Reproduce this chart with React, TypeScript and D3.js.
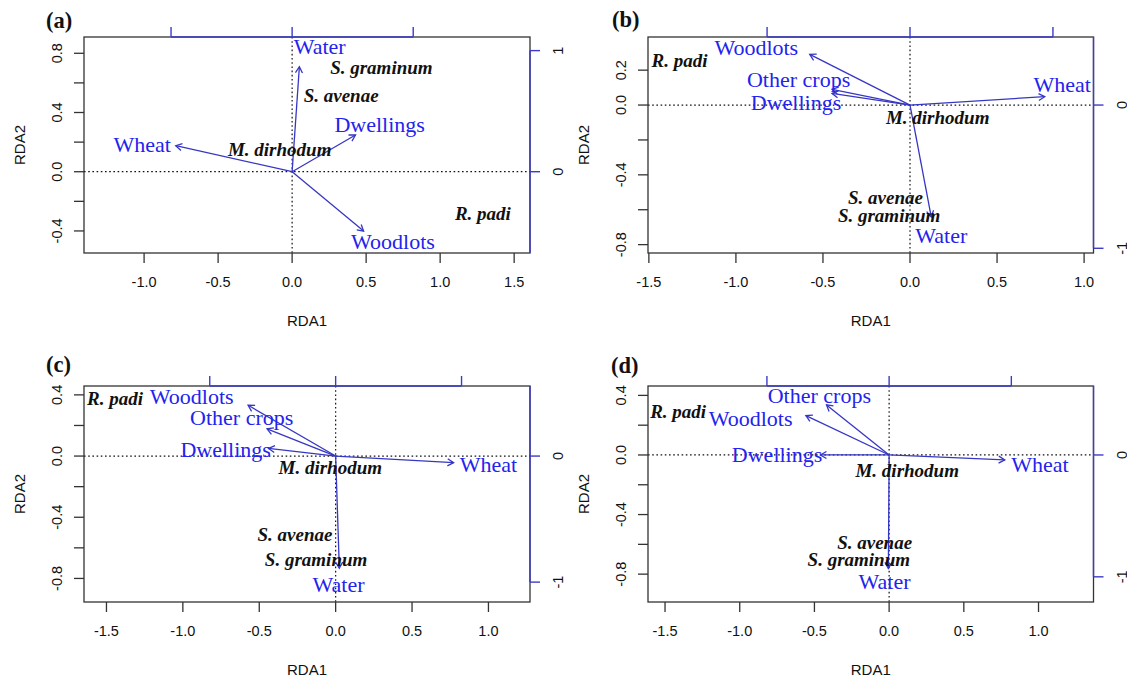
import React from "react";
import * as d3 from "d3";

// ---------- data ----------
const panelNames = ["(a)", "(b)", "(c)", "(d)"];

// axis ranges of each panel (RDA1, RDA2)
const xDomains: [number, number][] = [
  [-1.406, 1.607],
  [-1.505, 1.054],
  [-1.647, 1.272],
  [-1.614, 1.368],
];
const yDomains: [number, number][] = [
  [-0.549, 0.91],
  [-0.848, 0.39],
  [-0.954, 0.458],
  [-0.987, 0.463],
];

// bottom axis tick labels
const xTicksA = [-1.0, -0.5, 0.0, 0.5, 1.0, 1.5];
const xTicksB = [-1.5, -1.0, -0.5, 0.0, 0.5, 1.0];
const xTicksC = [-1.5, -1.0, -0.5, 0.0, 0.5, 1.0];
const xTicksD = [-1.5, -1.0, -0.5, 0.0, 0.5, 1.0];

// left axis tick marks and the labels that R kept
const yMarksA = [-0.4, -0.2, 0.0, 0.2, 0.4, 0.6, 0.8];
const yMarksB = [-0.8, -0.6, -0.4, -0.2, 0.0, 0.2];
const yMarksC = [-0.8, -0.6, -0.4, -0.2, 0.0, 0.2, 0.4];
const yMarksD = [-0.8, -0.6, -0.4, -0.2, 0.0, 0.2, 0.4];
const yLabelsA = [-0.4, 0.0, 0.4, 0.8];
const yLabelsB = [-0.8, -0.4, 0.0, 0.2];
const yLabelsC = [-0.8, -0.4, 0.0, 0.4];
const yLabelsD = [-0.8, -0.4, 0.0, 0.4];

// secondary (biplot arrow) axes: ticks and units of RDA per secondary unit
const secondaryTicks = [-1, 0, 1];
const secondaryUnit = [0.818, 0.821, 0.824, 0.818];

// environmental arrows: name, head (x, y), label (lx, ly)
type Arrow = { name: string; x: number; y: number; lx: number; ly: number };
const arrowsA: Arrow[] = [
  { name: "Water", x: 0.049, y: 0.709, lx: 0.186, ly: 0.849 },
  { name: "Wheat", x: -0.786, y: 0.176, lx: -1.013, ly: 0.187 },
  { name: "Dwellings", x: 0.428, y: 0.248, lx: 0.591, ly: 0.322 },
  { name: "Woodlots", x: 0.483, y: -0.401, lx: 0.681, ly: -0.473 },
];
const arrowsB: Arrow[] = [
  { name: "Woodlots", x: -0.576, y: 0.29, lx: -0.883, ly: 0.329 },
  { name: "Other crops", x: -0.448, y: 0.09, lx: -0.64, ly: 0.147 },
  { name: "Dwellings", x: -0.448, y: 0.067, lx: -0.655, ly: 0.015 },
  { name: "Wheat", x: 0.774, y: 0.048, lx: 0.874, ly: 0.119 },
  { name: "Water", x: 0.122, y: -0.641, lx: 0.18, ly: -0.746 },
];
const arrowsC: Arrow[] = [
  { name: "Woodlots", x: -0.573, y: 0.332, lx: -0.942, ly: 0.391 },
  { name: "Other crops", x: -0.449, y: 0.178, lx: -0.615, ly: 0.25 },
  { name: "Dwellings", x: -0.439, y: 0.05, lx: -0.72, ly: 0.046 },
  { name: "Wheat", x: 0.772, y: -0.043, lx: 1.0, ly: -0.058 },
  { name: "Water", x: 0.024, y: -0.733, lx: 0.019, ly: -0.841 },
];
const arrowsD: Arrow[] = [
  { name: "Other crops", x: -0.419, y: 0.336, lx: -0.467, ly: 0.399 },
  { name: "Woodlots", x: -0.557, y: 0.264, lx: -0.927, ly: 0.246 },
  { name: "Dwellings", x: -0.46, y: 0.0, lx: -0.75, ly: 0.0 },
  { name: "Wheat", x: 0.774, y: -0.033, lx: 1.009, ly: -0.063 },
  { name: "Water", x: -0.005, y: -0.762, lx: -0.031, ly: -0.851 },
];

// aphid species scores
type Species = { name: string; x: number; y: number };
const speciesA: Species[] = [
  { name: "S. graminum", x: 0.603, y: 0.703 },
  { name: "S. avenae", x: 0.331, y: 0.514 },
  { name: "M. dirhodum", x: -0.084, y: 0.147 },
  { name: "R. padi", x: 1.289, y: -0.281 },
];
const speciesB: Species[] = [
  { name: "R. padi", x: -1.324, y: 0.254 },
  { name: "M. dirhodum", x: 0.159, y: -0.071 },
  { name: "S. avenae", x: -0.141, y: -0.53 },
  { name: "S. graminum", x: -0.12, y: -0.632 },
];
const speciesC: Species[] = [
  { name: "R. padi", x: -1.444, y: 0.376 },
  { name: "M. dirhodum", x: -0.035, y: -0.074 },
  { name: "S. avenae", x: -0.266, y: -0.515 },
  { name: "S. graminum", x: -0.128, y: -0.678 },
];
const speciesD: Species[] = [
  { name: "R. padi", x: -1.412, y: 0.291 },
  { name: "M. dirhodum", x: 0.121, y: -0.101 },
  { name: "S. avenae", x: -0.097, y: -0.587 },
  { name: "S. graminum", x: -0.203, y: -0.705 },
];

const xTicksAll = [xTicksA, xTicksB, xTicksC, xTicksD];
const yMarksAll = [yMarksA, yMarksB, yMarksC, yMarksD];
const yLabelsAll = [yLabelsA, yLabelsB, yLabelsC, yLabelsD];
const arrowsAll = [arrowsA, arrowsB, arrowsC, arrowsD];
const speciesAll = [speciesA, speciesB, speciesC, speciesD];

// ---------- layout ----------
const W = 1127;
const H = 676;
const boxes = [
  { left: 84, right: 530, top: 37, bottom: 253, lblX: 46, lblY: 28 },
  { left: 648, right: 1093.5, top: 37, bottom: 253, lblX: 612, lblY: 27 },
  { left: 84, right: 530, top: 386, bottom: 602, lblX: 46, lblY: 372 },
  { left: 648, right: 1093.5, top: 386, bottom: 602, lblX: 611, lblY: 373 },
];

const BLUE_LINE = "#3636c4";
const BLUE_TEXT = "#2323ee";
const AXIS_BLUE = "#3c3cc8";
const SANS = "'Liberation Sans', Arial, sans-serif";
const SERIF = "'Liberation Serif', 'Times New Roman', serif";

const fmt = (v: number) => (Math.abs(v) < 1e-9 ? "0.0" : v.toFixed(1));

function headPath(x1: number, y1: number, x2: number, y2: number) {
  const a = Math.atan2(y2 - y1, x2 - x1);
  const L = 7;
  const ang = Math.PI / 6;
  return `M${x2 - L * Math.cos(a - ang)},${y2 - L * Math.sin(a - ang)}L${x2},${y2}L${
    x2 - L * Math.cos(a + ang)
  },${y2 - L * Math.sin(a + ang)}`;
}

function Panel({ i }: { i: number }) {
  const b = boxes[i];
  const x = d3.scaleLinear().domain(xDomains[i]).range([b.left, b.right]);
  const y = d3.scaleLinear().domain(yDomains[i]).range([b.bottom, b.top]);
  const k = secondaryUnit[i];
  const x2 = d3
    .scaleLinear()
    .domain([xDomains[i][0] / k, xDomains[i][1] / k])
    .range([b.left, b.right]);
  const y2 = d3
    .scaleLinear()
    .domain([yDomains[i][0] / k, yDomains[i][1] / k])
    .range([b.bottom, b.top]);

  const topVisible = secondaryTicks.filter((t) => x2(t) >= b.left && x2(t) <= b.right);
  const rightVisible = secondaryTicks.filter((t) => y2(t) >= b.top - 0.01 && y2(t) <= b.bottom + 0.01);
  const topLine = [
    Math.max(b.left, x2(d3.min(secondaryTicks)!)),
    Math.min(b.right, x2(d3.max(secondaryTicks)!)),
  ];
  const rightLine = [
    Math.max(b.top, y2(d3.max(secondaryTicks)!)),
    Math.min(b.bottom, y2(d3.min(secondaryTicks)!)),
  ];

  const cx = (b.left + b.right) / 2;
  const cy = (b.top + b.bottom) / 2;
  const x0 = x(0);
  const y0 = y(0);

  return (
    <g>
      {/* panel label */}
      <text x={b.lblX} y={b.lblY} fontFamily={SERIF} fontWeight="bold" fontSize={22.5} fill="#111">
        {panelNames[i]}
      </text>

      {/* zero lines */}
      <line x1={b.left} x2={b.right} y1={y0} y2={y0} stroke="#111" strokeWidth={1.2} strokeDasharray="1.6,2.6" />
      <line x1={x0} x2={x0} y1={b.top} y2={b.bottom} stroke="#111" strokeWidth={1.2} strokeDasharray="1.6,2.6" />

      {/* box */}
      <rect x={b.left} y={b.top} width={b.right - b.left} height={b.bottom - b.top} fill="none" stroke="#333" strokeWidth={1.3} />

      {/* bottom axis */}
      {xTicksAll[i].map((t) => (
        <g key={"xb" + t}>
          <line x1={x(t)} x2={x(t)} y1={b.bottom} y2={b.bottom + 10} stroke="#333" strokeWidth={1.3} />
          <text x={x(t)} y={b.bottom + 29} textAnchor="middle" dominantBaseline="central" fontFamily={SANS} fontSize={14.5} fill="#111">
            {fmt(t)}
          </text>
        </g>
      ))}
      {/* left axis */}
      {yMarksAll[i].map((t) => (
        <line key={"ym" + t} x1={b.left - 10} x2={b.left} y1={y(t)} y2={y(t)} stroke="#333" strokeWidth={1.3} />
      ))}
      {yLabelsAll[i].map((t) => (
        <text
          key={"yl" + t}
          transform={`translate(${b.left - 27},${y(t)}) rotate(-90)`}
          textAnchor="middle"
          dominantBaseline="central"
          fontFamily={SANS}
          fontSize={14.5}
          fill="#111"
        >
          {fmt(t)}
        </text>
      ))}

      {/* secondary axes (blue) */}
      <line x1={topLine[0]} x2={topLine[1]} y1={b.top} y2={b.top} stroke={AXIS_BLUE} strokeWidth={1.4} />
      {topVisible.map((t) => (
        <line key={"xt" + t} x1={x2(t)} x2={x2(t)} y1={b.top} y2={b.top - 10} stroke={AXIS_BLUE} strokeWidth={1.4} />
      ))}
      <line x1={b.right} x2={b.right} y1={rightLine[0]} y2={rightLine[1]} stroke={AXIS_BLUE} strokeWidth={1.4} />
      {rightVisible.map((t) => (
        <g key={"yr" + t}>
          <line x1={b.right} x2={b.right + 10} y1={y2(t)} y2={y2(t)} stroke={AXIS_BLUE} strokeWidth={1.4} />
          <text
            transform={`translate(${b.right + 28},${y2(t)}) rotate(-90)`}
            textAnchor="middle"
            dominantBaseline="central"
            fontFamily={SANS}
            fontSize={14.5}
            fill="#111"
          >
            {String(t)}
          </text>
        </g>
      ))}

      {/* axis titles */}
      <text x={cx} y={b.bottom + 67} textAnchor="middle" dominantBaseline="central" fontFamily={SANS} fontSize={15} fill="#111">
        RDA1
      </text>
      <text
        transform={`translate(${b.left - 65},${cy}) rotate(-90)`}
        textAnchor="middle"
        dominantBaseline="central"
        fontFamily={SANS}
        fontSize={15}
        fill="#111"
      >
        RDA2
      </text>

      {/* arrows */}
      {arrowsAll[i].map((a) => (
        <g key={"ar" + a.name}>
          <line x1={x0} y1={y0} x2={x(a.x)} y2={y(a.y)} stroke={BLUE_LINE} strokeWidth={1.3} />
          <path d={headPath(x0, y0, x(a.x), y(a.y))} fill="none" stroke={BLUE_LINE} strokeWidth={1.3} />
        </g>
      ))}

      {/* species labels */}
      {speciesAll[i].map((s) => (
        <text
          key={"sp" + s.name}
          x={x(s.x)}
          y={y(s.y)}
          textAnchor="middle"
          dominantBaseline="central"
          fontFamily={SERIF}
          fontStyle="italic"
          fontWeight="bold"
          fontSize={19}
          fill="#111"
        >
          {s.name}
        </text>
      ))}

      {/* environmental labels */}
      {arrowsAll[i].map((a) => (
        <text
          key={"al" + a.name}
          x={x(a.lx)}
          y={y(a.ly)}
          textAnchor="middle"
          dominantBaseline="central"
          fontFamily={SERIF}
          fontSize={22}
          fill={BLUE_TEXT}
        >
          {a.name}
        </text>
      ))}
    </g>
  );
}

export default function App() {
  return (
    <div style={{ position: "absolute", left: 0, top: 0, width: W, height: H, overflow: "hidden" }}>
      <svg width={W} height={H} viewBox={`0 0 ${W} ${H}`} style={{ display: "block" }}>
        <rect x={0} y={0} width={W} height={H} fill="#ffffff" />
        {[0, 1, 2, 3].map((i) => (
          <Panel key={i} i={i} />
        ))}
      </svg>
    </div>
  );
}
